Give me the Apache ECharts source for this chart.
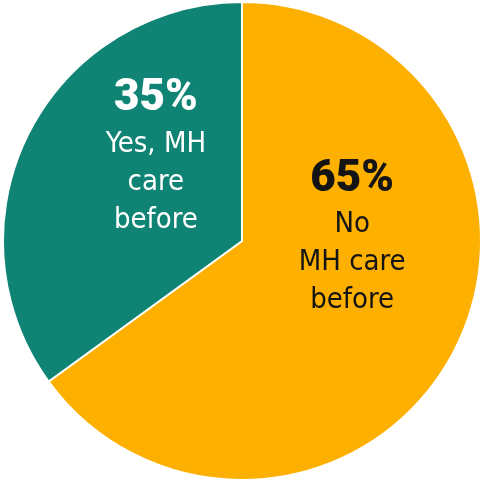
<!DOCTYPE html>
<html>
<head>
<meta charset="utf-8">
<script src="https://cdn.jsdelivr.net/npm/echarts@6/dist/echarts.min.js"></script>
<style>
  html, body { margin: 0; padding: 0; background: #ffffff; }
  #chart { width: 483px; height: 482px; }
</style>
</head>
<body>
<div id="chart"></div>
<script>
// Share of respondents by prior mental-health care
const categories = ['No MH care before', 'Yes, MH care before'];
const shares = [65, 35];
const labelLines = [
  ['No', 'MH care', 'before'],
  ['Yes, MH', 'care', 'before']
];
const sliceColors = ['#FDB000', '#0F8474'];
const textColors = ['#141414', '#ffffff'];

// Nudges from the default mid-slice label anchor
const labelShift = [
  { dx: 1, dy: -60 },
  { dx: 23, dy: -29 }
];

const chart = echarts.init(document.getElementById('chart'), null, { renderer: 'canvas' });

const data = categories.map((name, i) => ({
  name: name,
  value: shares[i],
  itemStyle: { color: sliceColors[i] },
  label: {
    formatter: '{p|' + shares[i] + '%}\n' + labelLines[i].map(t => '{t|' + t + '}').join('\n'),
    rich: {
      p: {
        fontFamily: 'Roboto',
        fontWeight: 900,
        fontSize: 44,
        lineHeight: 52,
        color: textColors[i],
        align: 'center'
      },
      t: {
        fontFamily: '"DejaVu Sans Condensed", "Liberation Sans Narrow", sans-serif',
        fontSize: 29,
        lineHeight: 38,
        color: textColors[i],
        align: 'center'
      }
    }
  }
}));

chart.setOption({
  animation: false,
  backgroundColor: '#ffffff',
  series: [{
    type: 'pie',
    center: [242, 241],
    radius: [0, 239],
    startAngle: 90,
    clockwise: true,
    silent: true,
    itemStyle: { borderColor: '#ffffff', borderWidth: 2 },
    label: { show: true, position: 'inside' },
    labelLine: { show: false },
    labelLayout: function (params) {
      return labelShift[params.dataIndex];
    },
    data: data
  }]
});
</script>
</body>
</html>
